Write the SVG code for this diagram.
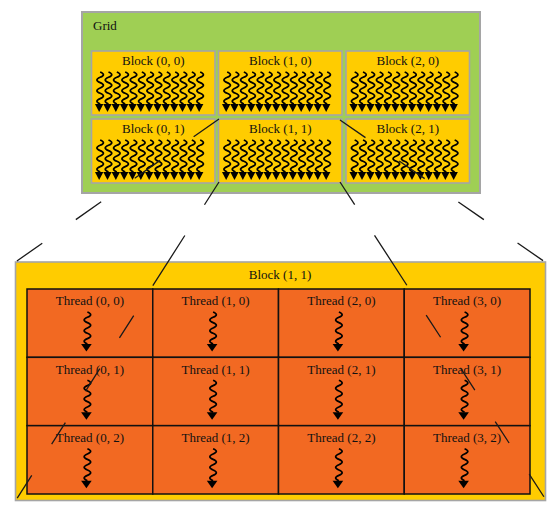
<svg xmlns="http://www.w3.org/2000/svg" xmlns:xlink="http://www.w3.org/1999/xlink" width="560" height="518" viewBox="0 0 560 518">
<style>
.lbl{font-family:"Liberation Serif","Times New Roman",serif;font-size:13px;fill:#111;}
.mid{text-anchor:middle;}
.grid{fill:#9FCF54;stroke:#A5A5A5;stroke-width:2;}
.blk{fill:#FFCC00;stroke:#A5A5A5;stroke-width:1.6;}
.thr{fill:#F26922;stroke:#111;stroke-width:1.5;}
.zoom{fill:none;stroke:#1a1a1a;stroke-width:1.3;}
</style>
<defs>
<path id="wv" d="M0,0 q6.5,2.67 0,5.33 t0,5.33 t0,5.33 t0,5.33 t0,5.33 t0,5.33" fill="none" stroke="#000" stroke-width="1.7"/>
<g id="sb"><use href="#wv" x="1"/><polygon points="-4.2,32 4.2,32 0,40" fill="#000"/></g>
<g id="st"><use href="#wv" x="1"/><polygon points="-5.3,32 5.3,32 0,39.5" fill="#000"/></g>
<g id="row">
<use href="#sb" x="4.17"/><use href="#sb" x="12.5"/><use href="#sb" x="20.83"/><use href="#sb" x="29.17"/><use href="#sb" x="37.5"/><use href="#sb" x="45.83"/><use href="#sb" x="54.17"/><use href="#sb" x="62.5"/><use href="#sb" x="70.83"/><use href="#sb" x="79.17"/><use href="#sb" x="87.5"/><use href="#sb" x="95.83"/><use href="#sb" x="104.17"/>
</g>
</defs>

<g id="grid">
<rect class="grid" x="82" y="12" width="398" height="181"/>
<text class="lbl" x="93" y="30">Grid</text>
</g>
<g id="block-0-0"><rect class="blk" x="91.5" y="51" width="123.5" height="64"/><text class="lbl mid" x="153.25" y="65">Block (0, 0)</text><use href="#row" x="95" y="72"/></g>
<g id="block-1-0"><rect class="blk" x="218.5" y="51" width="123.5" height="64"/><text class="lbl mid" x="280.25" y="65">Block (1, 0)</text><use href="#row" x="222" y="72"/></g>
<g id="block-2-0"><rect class="blk" x="346" y="51" width="123.5" height="64"/><text class="lbl mid" x="407.75" y="65">Block (2, 0)</text><use href="#row" x="349.5" y="72"/></g>
<g id="block-0-1"><rect class="blk" x="91.5" y="119" width="123.5" height="64"/><text class="lbl mid" x="153.25" y="133">Block (0, 1)</text><use href="#row" x="95" y="140"/></g>
<g id="block-1-1"><rect class="blk" x="218.5" y="119" width="123.5" height="64"/><text class="lbl mid" x="280.25" y="133">Block (1, 1)</text><use href="#row" x="222" y="140"/></g>
<g id="block-2-1"><rect class="blk" x="346" y="119" width="123.5" height="64"/><text class="lbl mid" x="407.75" y="133">Block (2, 1)</text><use href="#row" x="349.5" y="140"/></g>

<g id="block-detail">
<rect class="blk" x="15.5" y="262" width="530" height="238.5"/>
<text class="lbl mid" x="280" y="279">Block (1, 1)</text>
</g>

<g id="thread-0-0"><rect class="thr" x="27" y="289" width="125.75" height="68.33"/><text class="lbl mid" x="89.9" y="305">Thread (0, 0)</text><use href="#st" x="86.4" y="312"/></g>
<g id="thread-1-0"><rect class="thr" x="152.75" y="289" width="125.75" height="68.33"/><text class="lbl mid" x="215.6" y="305">Thread (1, 0)</text><use href="#st" x="212.1" y="312"/></g>
<g id="thread-2-0"><rect class="thr" x="278.5" y="289" width="125.75" height="68.33"/><text class="lbl mid" x="341.4" y="305">Thread (2, 0)</text><use href="#st" x="337.9" y="312"/></g>
<g id="thread-3-0"><rect class="thr" x="404.25" y="289" width="125.75" height="68.33"/><text class="lbl mid" x="467.1" y="305">Thread (3, 0)</text><use href="#st" x="463.6" y="312"/></g>
<g id="thread-0-1"><rect class="thr" x="27" y="357.33" width="125.75" height="68.33"/><text class="lbl mid" x="89.9" y="373.5">Thread (0, 1)</text><use href="#st" x="86.4" y="380.3"/></g>
<g id="thread-1-1"><rect class="thr" x="152.75" y="357.33" width="125.75" height="68.33"/><text class="lbl mid" x="215.6" y="373.5">Thread (1, 1)</text><use href="#st" x="212.1" y="380.3"/></g>
<g id="thread-2-1"><rect class="thr" x="278.5" y="357.33" width="125.75" height="68.33"/><text class="lbl mid" x="341.4" y="373.5">Thread (2, 1)</text><use href="#st" x="337.9" y="380.3"/></g>
<g id="thread-3-1"><rect class="thr" x="404.25" y="357.33" width="125.75" height="68.33"/><text class="lbl mid" x="467.1" y="373.5">Thread (3, 1)</text><use href="#st" x="463.6" y="380.3"/></g>
<g id="thread-0-2"><rect class="thr" x="27" y="425.67" width="125.75" height="68.33"/><text class="lbl mid" x="89.9" y="442">Thread (0, 2)</text><use href="#st" x="86.4" y="448.7"/></g>
<g id="thread-1-2"><rect class="thr" x="152.75" y="425.67" width="125.75" height="68.33"/><text class="lbl mid" x="215.6" y="442">Thread (1, 2)</text><use href="#st" x="212.1" y="448.7"/></g>
<g id="thread-2-2"><rect class="thr" x="278.5" y="425.67" width="125.75" height="68.33"/><text class="lbl mid" x="341.4" y="442">Thread (2, 2)</text><use href="#st" x="337.9" y="448.7"/></g>
<g id="thread-3-2"><rect class="thr" x="404.25" y="425.67" width="125.75" height="68.33"/><text class="lbl mid" x="467.1" y="442">Thread (3, 2)</text><use href="#st" x="463.6" y="448.7"/></g>

<g id="connectors">
<path class="zoom" d="M219,119 L15.5,262" stroke-dasharray="31 41"/>
<path class="zoom" d="M340,120 L545,262" stroke-dasharray="31 41"/>
<path class="zoom" d="M219,182 L16,500" stroke-dasharray="27 36.5 59.5 35.5 26.5 36.5 26.5 37.5 25.5 37 27 50"/>
<path class="zoom" d="M340,182 L546,500" stroke-dasharray="27 36.5 59.5 35.5 26.5 36.5 26.5 37.5 25.5 37 27 50"/>
</g>
</svg>
